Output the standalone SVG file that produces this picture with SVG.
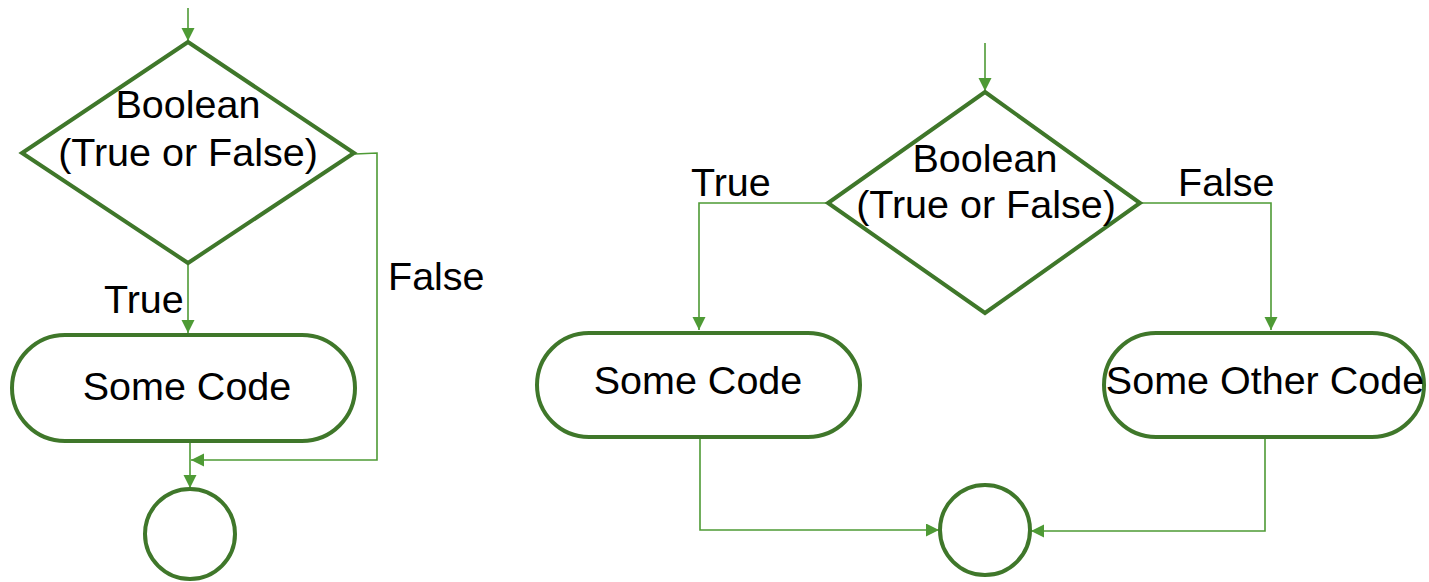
<svg xmlns="http://www.w3.org/2000/svg" width="1429" height="582" viewBox="0 0 1429 582">
  <style>
    .shape { fill: #ffffff; stroke: #3f772a; stroke-width: 4; }
    .link { fill: none; stroke: #4e9a35; stroke-width: 1.6; }
    .txt { font-family: "Liberation Sans", Arial, sans-serif; font-size: 39.5px; fill: #000000; }
    .mid { text-anchor: middle; }
  </style>
  <defs>
    <marker id="arrow" markerUnits="userSpaceOnUse" markerWidth="14" markerHeight="14" refX="13" refY="6.5" orient="auto">
      <path d="M0,0 L13,6.5 L0,13 z" fill="#4e9a35"/>
    </marker>
  </defs>

  <!-- connectors -->
  <g id="connectors">
    <!-- left flow -->
    <path class="link" d="M188,8 V41" marker-end="url(#arrow)"/>
    <path class="link" d="M188,263 V333" marker-end="url(#arrow)"/>
    <path class="link" d="M355,154 L377,153 V460 H191" marker-end="url(#arrow)"/>
    <path class="link" d="M190,443 V488" marker-end="url(#arrow)"/>
    <!-- right flow -->
    <path class="link" d="M985,43 V91" marker-end="url(#arrow)"/>
    <path class="link" d="M828,203 H699 V330" marker-end="url(#arrow)"/>
    <path class="link" d="M1141,203 H1271 V330" marker-end="url(#arrow)"/>
    <path class="link" d="M700,438 V530 H939" marker-end="url(#arrow)"/>
    <path class="link" d="M1265,438 V531 H1031" marker-end="url(#arrow)"/>
  </g>

  <!-- left flow nodes -->
  <g id="decision-left">
    <polygon class="shape" points="188,42 354,153 188,263 22,153"/>
    <text class="txt mid" x="188" y="118">Boolean</text>
    <text class="txt mid" x="188" y="166">(True or False)</text>
  </g>
  <g id="code-left">
    <rect class="shape" x="12" y="335" width="343" height="106" rx="53" ry="53"/>
    <text class="txt mid" x="187" y="400">Some Code</text>
  </g>
  <g id="end-left">
    <circle class="shape" cx="190" cy="534" r="45"/>
  </g>
  <g id="labels-left">
    <text class="txt" x="104" y="313">True</text>
    <text class="txt" x="388" y="290">False</text>
  </g>

  <!-- right flow nodes -->
  <g id="decision-right">
    <polygon class="shape" points="985,92 1140,203 985,313 828,203"/>
    <text class="txt mid" x="985" y="172">Boolean</text>
    <text class="txt mid" x="986" y="218">(True or False)</text>
  </g>
  <g id="code-true">
    <rect class="shape" x="537" y="333" width="323" height="104" rx="52" ry="52"/>
    <text class="txt mid" x="698" y="394">Some Code</text>
  </g>
  <g id="code-false">
    <rect class="shape" x="1104" y="333" width="320" height="104" rx="52" ry="52"/>
    <text class="txt mid" x="1265" y="394">Some Other Code</text>
  </g>
  <g id="end-right">
    <circle class="shape" cx="985" cy="530" r="45"/>
  </g>
  <g id="labels-right">
    <text class="txt" x="691" y="196">True</text>
    <text class="txt" x="1178" y="196">False</text>
  </g>
</svg>
